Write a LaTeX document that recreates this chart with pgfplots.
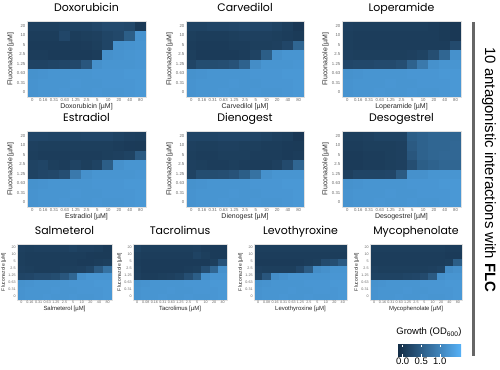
\documentclass[border=0pt]{standalone}
\usepackage{pgfplots}
\pgfplotsset{compat=1.18}
\usepackage{fontspec}
\setmainfont{Liberation Sans}
\newfontfamily\titlefont{Poppins}
\pgfplotsset{colormap={gg}{rgb255=(19,43,67) rgb255=(86,177,247)}}
\pgfplotsset{
 hm/.style={scale only axis, anchor=north west, xmin=-0.5, xmax=10.5, ymin=-0.5, ymax=7.5,
  enlargelimits=false, colormap name=gg, point meta min=-0.15, point meta max=1.57,
  axis line style={draw=black!12, line width=0.6bp}, major tick length=0pt,
  xtick={0,...,10}, ytick={0,...,7}, yticklabels={0,0.31,0.63,1.25,2.5,5,10,20},
  ylabel={Fluconazole [µM]}, axis on top, clip marker paths=true,
  title style={font=\titlefont\fontsize{11}{11}\selectfont, at={(0.5,1)}, anchor=base, yshift=3.5bp}},
 big/.style={hm, height=76bp,
  xticklabel style={font=\fontsize{4.3}{4.3}\selectfont, text=black!60, inner sep=1bp},
  yticklabel style={font=\fontsize{4.3}{4.3}\selectfont, text=black!60, inner sep=1.5bp},
  label style={font=\fontsize{7}{7}\selectfont, text=black!85, inner sep=1.5bp}},
 small/.style={hm, height=56bp,
  xticklabel style={font=\fontsize{3.7}{3.7}\selectfont, text=black!60, inner sep=1bp},
  yticklabel style={font=\fontsize{3.7}{3.7}\selectfont, text=black!60, inner sep=1.2bp},
  xlabel style={font=\fontsize{6}{6}\selectfont, text=black!85, inner sep=1.2bp},
  ylabel style={font=\fontsize{5}{5}\selectfont, text=black!85, inner sep=1.2bp}},
 hmplot/.style={scatter, only marks, point meta=explicit, mark=square*,
  scatter/use mapped color={draw=mapped color, fill=mapped color}},
 cellA/.style={hmplot, mark size=4.75bp, mark options={xscale=1.139, line width=0.5bp}},
 cellB/.style={hmplot, mark size=4.75bp, mark options={xscale=1.129, line width=0.5bp}},
 cellS/.style={hmplot, mark size=3.5bp, mark options={xscale=#1, line width=0.5bp}}
}
\begin{document}
\begin{tikzpicture}
\path[use as bounding box] (0,0) rectangle (500bp,-370bp);
% ---------- Doxorubicin
\begin{axis}[big, at={(27bp,-21bp)}, width=119bp, title={Doxorubicin}, xlabel={Doxorubicin [µM]}, xticklabels={0,0.16,0.31,0.63,1.25,2.5,5,10,20,40,80}]
\addplot[cellA] table[meta=c, row sep=\\]{
x y c\\
0 0 1.18\\ 1 0 1.20\\ 2 0 1.20\\ 3 0 1.22\\ 4 0 1.20\\ 5 0 1.20\\ 6 0 1.22\\ 7 0 1.20\\ 8 0 1.20\\ 9 0 1.22\\ 10 0 1.24\\
0 1 1.18\\ 1 1 1.20\\ 2 1 1.20\\ 3 1 1.20\\ 4 1 1.22\\ 5 1 1.20\\ 6 1 1.20\\ 7 1 1.22\\ 8 1 1.22\\ 9 1 1.22\\ 10 1 1.24\\
0 2 1.16\\ 1 2 1.18\\ 2 2 1.20\\ 3 2 1.20\\ 4 2 1.20\\ 5 2 1.20\\ 6 2 1.22\\ 7 2 1.22\\ 8 2 1.22\\ 9 2 1.24\\ 10 2 1.24\\
0 3 0.15\\ 1 3 0.15\\ 2 3 0.18\\ 3 3 0.20\\ 4 3 0.22\\ 5 3 0.40\\ 6 3 1.15\\ 7 3 1.20\\ 8 3 1.20\\ 9 3 1.20\\ 10 3 1.22\\
0 4 0.08\\ 1 4 0.08\\ 2 4 0.06\\ 3 4 0.06\\ 4 4 0.06\\ 5 4 0.06\\ 6 4 0.08\\ 7 4 1.15\\ 8 4 1.18\\ 9 4 1.20\\ 10 4 1.22\\
0 5 0.06\\ 1 5 0.06\\ 2 5 0.06\\ 3 5 0.06\\ 4 5 0.06\\ 5 5 0.07\\ 6 5 0.10\\ 7 5 0.18\\ 8 5 1.15\\ 9 5 1.18\\ 10 5 1.20\\
0 6 0.08\\ 1 6 0.08\\ 2 6 0.08\\ 3 6 0.20\\ 4 6 0.08\\ 5 6 0.10\\ 6 6 0.12\\ 7 6 0.18\\ 8 6 0.22\\ 9 6 0.50\\ 10 6 1.18\\
0 7 0.12\\ 1 7 0.12\\ 2 7 0.12\\ 3 7 0.14\\ 4 7 0.15\\ 5 7 0.16\\ 6 7 0.20\\ 7 7 0.25\\ 8 7 0.25\\ 9 7 0.22\\ 10 7 0.03\\
};
\end{axis}
% ---------- Carvedilol
\begin{axis}[big, at={(186bp,-21bp)}, width=118bp, title={Carvedilol}, xlabel={Carvedilol [µM]}, xticklabels={0,0.16,0.31,0.63,1.25,2.5,5,10,20,40,80}]
\addplot[cellB] table[meta=c, row sep=\\]{
x y c\\
0 0 1.18\\ 1 0 1.20\\ 2 0 1.20\\ 3 0 1.22\\ 4 0 1.20\\ 5 0 1.20\\ 6 0 1.22\\ 7 0 1.20\\ 8 0 1.20\\ 9 0 1.22\\ 10 0 1.24\\
0 1 1.18\\ 1 1 1.20\\ 2 1 1.20\\ 3 1 1.20\\ 4 1 1.22\\ 5 1 1.20\\ 6 1 1.20\\ 7 1 1.22\\ 8 1 1.22\\ 9 1 1.22\\ 10 1 1.24\\
0 2 1.16\\ 1 2 1.18\\ 2 2 1.20\\ 3 2 1.20\\ 4 2 1.20\\ 5 2 1.20\\ 6 2 1.22\\ 7 2 1.22\\ 8 2 1.22\\ 9 2 1.24\\ 10 2 1.24\\
0 3 0.18\\ 1 3 0.28\\ 2 3 0.28\\ 3 3 0.30\\ 4 3 0.35\\ 5 3 0.55\\ 6 3 1.10\\ 7 3 1.20\\ 8 3 1.20\\ 9 3 1.20\\ 10 3 1.22\\
0 4 0.10\\ 1 4 0.06\\ 2 4 0.06\\ 3 4 0.06\\ 4 4 0.06\\ 5 4 0.08\\ 6 4 0.15\\ 7 4 0.50\\ 8 4 1.15\\ 9 4 1.20\\ 10 4 1.20\\
0 5 0.08\\ 1 5 0.06\\ 2 5 0.06\\ 3 5 0.06\\ 4 5 0.08\\ 5 5 0.08\\ 6 5 0.10\\ 7 5 0.10\\ 8 5 0.12\\ 9 5 0.20\\ 10 5 0.60\\
0 6 0.10\\ 1 6 0.08\\ 2 6 0.08\\ 3 6 0.08\\ 4 6 0.10\\ 5 6 0.12\\ 6 6 0.12\\ 7 6 0.12\\ 8 6 0.10\\ 9 6 0.08\\ 10 6 0.05\\
0 7 0.15\\ 1 7 0.15\\ 2 7 0.18\\ 3 7 0.18\\ 4 7 0.20\\ 5 7 0.22\\ 6 7 0.20\\ 7 7 0.20\\ 8 7 0.15\\ 9 7 0.10\\ 10 7 0.02\\
};
\end{axis}
% ---------- Loperamide
\begin{axis}[big, at={(342bp,-21bp)}, width=119bp, title={Loperamide}, xlabel={Loperamide [µM]}, xticklabels={0,0.16,0.31,0.63,1.25,2.5,5,10,20,40,80}]
\addplot[cellA] table[meta=c, row sep=\\]{
x y c\\
0 0 1.18\\ 1 0 1.20\\ 2 0 1.20\\ 3 0 1.22\\ 4 0 1.20\\ 5 0 1.20\\ 6 0 1.22\\ 7 0 1.20\\ 8 0 1.20\\ 9 0 1.22\\ 10 0 1.24\\
0 1 1.18\\ 1 1 1.20\\ 2 1 1.20\\ 3 1 1.20\\ 4 1 1.22\\ 5 1 1.20\\ 6 1 1.20\\ 7 1 1.22\\ 8 1 1.22\\ 9 1 1.22\\ 10 1 1.24\\
0 2 1.16\\ 1 2 1.18\\ 2 2 1.20\\ 3 2 1.20\\ 4 2 1.20\\ 5 2 1.20\\ 6 2 1.22\\ 7 2 1.22\\ 8 2 1.22\\ 9 2 1.24\\ 10 2 1.24\\
0 3 0.20\\ 1 3 0.22\\ 2 3 0.22\\ 3 3 0.25\\ 4 3 0.25\\ 5 3 0.30\\ 6 3 0.55\\ 7 3 0.85\\ 8 3 1.15\\ 9 3 1.20\\ 10 3 1.20\\
0 4 0.12\\ 1 4 0.10\\ 2 4 0.10\\ 3 4 0.10\\ 4 4 0.10\\ 5 4 0.10\\ 6 4 0.12\\ 7 4 0.15\\ 8 4 0.30\\ 9 4 0.60\\ 10 4 1.15\\
0 5 0.10\\ 1 5 0.08\\ 2 5 0.08\\ 3 5 0.08\\ 4 5 0.08\\ 5 5 0.08\\ 6 5 0.08\\ 7 5 0.08\\ 8 5 0.08\\ 9 5 0.08\\ 10 5 0.25\\
0 6 0.10\\ 1 6 0.08\\ 2 6 0.08\\ 3 6 0.08\\ 4 6 0.08\\ 5 6 0.08\\ 6 6 0.08\\ 7 6 0.08\\ 8 6 0.08\\ 9 6 0.05\\ 10 6 0.02\\
0 7 0.12\\ 1 7 0.10\\ 2 7 0.10\\ 3 7 0.10\\ 4 7 0.10\\ 5 7 0.10\\ 6 7 0.10\\ 7 7 0.10\\ 8 7 0.08\\ 9 7 0.05\\ 10 7 0.02\\
};
\end{axis}
% ---------- Estradiol
\begin{axis}[big, at={(27bp,-131bp)}, width=119bp, title={Estradiol}, xlabel={Estradiol [µM]}, xticklabels={0,0.16,0.31,0.63,1.25,2.5,5,10,20,40,80}]
\addplot[cellA] table[meta=c, row sep=\\]{
x y c\\
0 0 1.18\\ 1 0 1.20\\ 2 0 1.20\\ 3 0 1.22\\ 4 0 1.20\\ 5 0 1.20\\ 6 0 1.22\\ 7 0 1.20\\ 8 0 1.20\\ 9 0 1.22\\ 10 0 1.24\\
0 1 1.18\\ 1 1 1.20\\ 2 1 1.20\\ 3 1 1.20\\ 4 1 1.22\\ 5 1 1.20\\ 6 1 1.20\\ 7 1 1.22\\ 8 1 1.22\\ 9 1 1.22\\ 10 1 1.24\\
0 2 1.16\\ 1 2 1.18\\ 2 2 1.20\\ 3 2 1.20\\ 4 2 1.20\\ 5 2 1.20\\ 6 2 1.22\\ 7 2 1.22\\ 8 2 1.22\\ 9 2 1.24\\ 10 2 1.24\\
0 3 0.15\\ 1 3 0.20\\ 2 3 0.22\\ 3 3 0.30\\ 4 3 0.85\\ 5 3 1.15\\ 6 3 1.20\\ 7 3 1.20\\ 8 3 1.20\\ 9 3 1.20\\ 10 3 1.22\\
0 4 0.15\\ 1 4 0.18\\ 2 4 0.10\\ 3 4 0.08\\ 4 4 0.15\\ 5 4 0.10\\ 6 4 0.15\\ 7 4 0.50\\ 8 4 1.15\\ 9 4 1.20\\ 10 4 1.20\\
0 5 0.10\\ 1 5 0.08\\ 2 5 0.08\\ 3 5 0.08\\ 4 5 0.08\\ 5 5 0.08\\ 6 5 0.08\\ 7 5 0.10\\ 8 5 0.12\\ 9 5 0.15\\ 10 5 0.45\\
0 6 0.12\\ 1 6 0.10\\ 2 6 0.10\\ 3 6 0.10\\ 4 6 0.10\\ 5 6 0.10\\ 6 6 0.10\\ 7 6 0.10\\ 8 6 0.08\\ 9 6 0.06\\ 10 6 0.05\\
0 7 0.20\\ 1 7 0.20\\ 2 7 0.18\\ 3 7 0.18\\ 4 7 0.18\\ 5 7 0.20\\ 6 7 0.20\\ 7 7 0.20\\ 8 7 0.15\\ 9 7 0.12\\ 10 7 0.10\\
};
\end{axis}
% ---------- Dienogest
\begin{axis}[big, at={(186bp,-131bp)}, width=118bp, title={Dienogest}, xlabel={Dienogest [µM]}, xticklabels={0,0.16,0.31,0.63,1.25,2.5,5,10,20,40,80}]
\addplot[cellB] table[meta=c, row sep=\\]{
x y c\\
0 0 1.18\\ 1 0 1.20\\ 2 0 1.20\\ 3 0 1.22\\ 4 0 1.20\\ 5 0 1.20\\ 6 0 1.22\\ 7 0 1.20\\ 8 0 1.20\\ 9 0 1.22\\ 10 0 1.24\\
0 1 1.18\\ 1 1 1.20\\ 2 1 1.20\\ 3 1 1.20\\ 4 1 1.22\\ 5 1 1.20\\ 6 1 1.20\\ 7 1 1.22\\ 8 1 1.22\\ 9 1 1.22\\ 10 1 1.24\\
0 2 1.16\\ 1 2 1.18\\ 2 2 1.20\\ 3 2 1.20\\ 4 2 1.20\\ 5 2 1.20\\ 6 2 1.22\\ 7 2 1.22\\ 8 2 1.22\\ 9 2 1.24\\ 10 2 1.24\\
0 3 0.15\\ 1 3 0.28\\ 2 3 0.28\\ 3 3 0.30\\ 4 3 0.35\\ 5 3 0.50\\ 6 3 0.75\\ 7 3 1.15\\ 8 3 1.20\\ 9 3 1.20\\ 10 3 1.20\\
0 4 0.12\\ 1 4 0.10\\ 2 4 0.08\\ 3 4 0.08\\ 4 4 0.10\\ 5 4 0.08\\ 6 4 0.08\\ 7 4 0.08\\ 8 4 0.12\\ 9 4 0.25\\ 10 4 0.60\\
0 5 0.10\\ 1 5 0.08\\ 2 5 0.08\\ 3 5 0.10\\ 4 5 0.10\\ 5 5 0.10\\ 6 5 0.08\\ 7 5 0.08\\ 8 5 0.08\\ 9 5 0.06\\ 10 5 0.08\\
0 6 0.12\\ 1 6 0.10\\ 2 6 0.10\\ 3 6 0.12\\ 4 6 0.12\\ 5 6 0.10\\ 6 6 0.10\\ 7 6 0.08\\ 8 6 0.08\\ 9 6 0.06\\ 10 6 0.05\\
0 7 0.18\\ 1 7 0.18\\ 2 7 0.18\\ 3 7 0.20\\ 4 7 0.20\\ 5 7 0.20\\ 6 7 0.18\\ 7 7 0.15\\ 8 7 0.12\\ 9 7 0.10\\ 10 7 0.02\\
};
\end{axis}
% ---------- Desogestrel
\begin{axis}[big, at={(342bp,-131bp)}, width=119bp, title={Desogestrel}, xlabel={Desogestrel [µM]}, xticklabels={0,0.16,0.31,0.63,1.25,2.5,5,10,20,40,80}]
\addplot[cellA] table[meta=c, row sep=\\]{
x y c\\
0 0 1.18\\ 1 0 1.20\\ 2 0 1.20\\ 3 0 1.22\\ 4 0 1.20\\ 5 0 1.20\\ 6 0 1.22\\ 7 0 1.20\\ 8 0 1.20\\ 9 0 1.22\\ 10 0 1.24\\
0 1 1.18\\ 1 1 1.20\\ 2 1 1.20\\ 3 1 1.20\\ 4 1 1.22\\ 5 1 1.20\\ 6 1 1.20\\ 7 1 1.22\\ 8 1 1.22\\ 9 1 1.22\\ 10 1 1.24\\
0 2 1.16\\ 1 2 1.18\\ 2 2 1.20\\ 3 2 1.20\\ 4 2 1.20\\ 5 2 1.20\\ 6 2 1.22\\ 7 2 1.22\\ 8 2 1.22\\ 9 2 1.24\\ 10 2 1.24\\
0 3 0.12\\ 1 3 0.18\\ 2 3 0.18\\ 3 3 0.18\\ 4 3 0.20\\ 5 3 0.45\\ 6 3 1.15\\ 7 3 1.15\\ 8 3 1.20\\ 9 3 1.20\\ 10 3 1.20\\
0 4 0.06\\ 1 4 0.06\\ 2 4 0.08\\ 3 4 0.08\\ 4 4 0.10\\ 5 4 0.12\\ 6 4 0.30\\ 7 4 0.50\\ 8 4 0.55\\ 9 4 0.60\\ 10 4 0.60\\
0 5 0.06\\ 1 5 0.06\\ 2 5 0.08\\ 3 5 0.08\\ 4 5 0.10\\ 5 5 0.12\\ 6 5 0.40\\ 7 5 0.55\\ 8 5 0.60\\ 9 5 0.62\\ 10 5 0.62\\
0 6 0.08\\ 1 6 0.08\\ 2 6 0.10\\ 3 6 0.10\\ 4 6 0.10\\ 5 6 0.12\\ 6 6 0.45\\ 7 6 0.55\\ 8 6 0.60\\ 9 6 0.60\\ 10 6 0.62\\
0 7 0.10\\ 1 7 0.10\\ 2 7 0.12\\ 3 7 0.15\\ 4 7 0.15\\ 5 7 0.15\\ 6 7 0.50\\ 7 7 0.55\\ 8 7 0.60\\ 9 7 0.60\\ 10 7 0.60\\
};
\end{axis}
% ---------- Salmeterol
\begin{axis}[small, at={(17bp,-244bp)}, width=95bp, title={Salmeterol}, xlabel={Salmeterol [µM]}, xticklabels={0,0.16,0.31,0.63,1.25,2.5,5,10,20,40,80}]
\addplot[cellS=1.234] table[meta=c, row sep=\\]{
x y c\\
0 0 1.18\\ 1 0 1.20\\ 2 0 1.20\\ 3 0 1.22\\ 4 0 1.20\\ 5 0 1.20\\ 6 0 1.22\\ 7 0 1.20\\ 8 0 1.20\\ 9 0 1.22\\ 10 0 1.24\\
0 1 1.18\\ 1 1 1.20\\ 2 1 1.20\\ 3 1 1.20\\ 4 1 1.22\\ 5 1 1.20\\ 6 1 1.20\\ 7 1 1.22\\ 8 1 1.22\\ 9 1 1.22\\ 10 1 1.24\\
0 2 1.16\\ 1 2 1.18\\ 2 2 1.20\\ 3 2 1.20\\ 4 2 1.20\\ 5 2 1.20\\ 6 2 1.22\\ 7 2 1.22\\ 8 2 1.22\\ 9 2 1.24\\ 10 2 1.24\\
0 3 0.18\\ 1 3 0.20\\ 2 3 0.25\\ 3 3 0.25\\ 4 3 0.28\\ 5 3 0.40\\ 6 3 0.60\\ 7 3 1.15\\ 8 3 1.20\\ 9 3 1.20\\ 10 3 1.20\\
0 4 0.12\\ 1 4 0.10\\ 2 4 0.08\\ 3 4 0.08\\ 4 4 0.08\\ 5 4 0.10\\ 6 4 0.10\\ 7 4 0.12\\ 8 4 0.18\\ 9 4 0.45\\ 10 4 0.75\\
0 5 0.10\\ 1 5 0.08\\ 2 5 0.08\\ 3 5 0.08\\ 4 5 0.08\\ 5 5 0.08\\ 6 5 0.08\\ 7 5 0.06\\ 8 5 0.06\\ 9 5 0.08\\ 10 5 0.10\\
0 6 0.10\\ 1 6 0.08\\ 2 6 0.08\\ 3 6 0.08\\ 4 6 0.08\\ 5 6 0.08\\ 6 6 0.08\\ 7 6 0.08\\ 8 6 0.06\\ 9 6 0.05\\ 10 6 0.05\\
0 7 0.12\\ 1 7 0.10\\ 2 7 0.12\\ 3 7 0.12\\ 4 7 0.12\\ 5 7 0.12\\ 6 7 0.15\\ 7 7 0.12\\ 8 7 0.12\\ 9 7 0.10\\ 10 7 0.05\\
};
\end{axis}
% ---------- Tacrolimus
\begin{axis}[small, at={(133bp,-244bp)}, width=94bp, title={Tacrolimus}, xlabel={Tacrolimus [µM]}, xticklabels={0,0.08,0.16,0.31,0.63,1.25,2.5,5,10,20,40}]
\addplot[cellS=1.221] table[meta=c, row sep=\\]{
x y c\\
0 0 1.18\\ 1 0 1.20\\ 2 0 1.20\\ 3 0 1.22\\ 4 0 1.20\\ 5 0 1.20\\ 6 0 1.22\\ 7 0 1.20\\ 8 0 1.20\\ 9 0 1.22\\ 10 0 1.24\\
0 1 1.18\\ 1 1 1.20\\ 2 1 1.20\\ 3 1 1.20\\ 4 1 1.22\\ 5 1 1.20\\ 6 1 1.20\\ 7 1 1.22\\ 8 1 1.22\\ 9 1 1.22\\ 10 1 1.24\\
0 2 1.16\\ 1 2 1.18\\ 2 2 1.20\\ 3 2 1.20\\ 4 2 1.20\\ 5 2 1.20\\ 6 2 1.22\\ 7 2 1.22\\ 8 2 1.22\\ 9 2 1.24\\ 10 2 1.24\\
0 3 0.12\\ 1 3 0.08\\ 2 3 0.08\\ 3 3 0.10\\ 4 3 0.12\\ 5 3 0.15\\ 6 3 0.30\\ 7 3 0.50\\ 8 3 1.15\\ 9 3 1.20\\ 10 3 1.20\\
0 4 0.10\\ 1 4 0.06\\ 2 4 0.06\\ 3 4 0.06\\ 4 4 0.06\\ 5 4 0.06\\ 6 4 0.08\\ 7 4 0.10\\ 8 4 0.30\\ 9 4 0.60\\ 10 4 1.15\\
0 5 0.08\\ 1 5 0.06\\ 2 5 0.06\\ 3 5 0.06\\ 4 5 0.06\\ 5 5 0.06\\ 6 5 0.06\\ 7 5 0.06\\ 8 5 0.06\\ 9 5 0.10\\ 10 5 0.35\\
0 6 0.10\\ 1 6 0.08\\ 2 6 0.08\\ 3 6 0.08\\ 4 6 0.08\\ 5 6 0.08\\ 6 6 0.08\\ 7 6 0.15\\ 8 6 0.10\\ 9 6 0.06\\ 10 6 0.06\\
0 7 0.15\\ 1 7 0.10\\ 2 7 0.10\\ 3 7 0.10\\ 4 7 0.10\\ 5 7 0.10\\ 6 7 0.10\\ 7 7 0.12\\ 8 7 0.08\\ 9 7 0.06\\ 10 7 0.06\\
};
\end{axis}
% ---------- Levothyroxine
\begin{axis}[small, at={(254bp,-244bp)}, width=93bp, title={Levothyroxine}, xlabel={Levothyroxine [µM]}, xticklabels={0,0.08,0.16,0.31,0.63,1.25,2.5,5,10,20,40}]
\addplot[cellS=1.208] table[meta=c, row sep=\\]{
x y c\\
0 0 1.18\\ 1 0 1.20\\ 2 0 1.20\\ 3 0 1.22\\ 4 0 1.20\\ 5 0 1.20\\ 6 0 1.22\\ 7 0 1.20\\ 8 0 1.20\\ 9 0 1.22\\ 10 0 1.24\\
0 1 1.18\\ 1 1 1.20\\ 2 1 1.20\\ 3 1 1.20\\ 4 1 1.22\\ 5 1 1.20\\ 6 1 1.20\\ 7 1 1.22\\ 8 1 1.22\\ 9 1 1.22\\ 10 1 1.24\\
0 2 1.16\\ 1 2 1.18\\ 2 2 1.20\\ 3 2 1.20\\ 4 2 1.20\\ 5 2 1.20\\ 6 2 1.22\\ 7 2 1.22\\ 8 2 1.22\\ 9 2 1.24\\ 10 2 1.24\\
0 3 0.15\\ 1 3 0.40\\ 2 3 1.10\\ 3 3 1.15\\ 4 3 1.20\\ 5 3 1.20\\ 6 3 1.20\\ 7 3 1.20\\ 8 3 1.20\\ 9 3 1.22\\ 10 3 1.22\\
0 4 0.12\\ 1 4 0.10\\ 2 4 0.10\\ 3 4 0.10\\ 4 4 0.10\\ 5 4 0.20\\ 6 4 0.45\\ 7 4 1.10\\ 8 4 1.15\\ 9 4 1.20\\ 10 4 1.20\\
0 5 0.06\\ 1 5 0.06\\ 2 5 0.06\\ 3 5 0.06\\ 4 5 0.06\\ 5 5 0.06\\ 6 5 0.08\\ 7 5 0.10\\ 8 5 0.25\\ 9 5 0.30\\ 10 5 0.45\\
0 6 0.08\\ 1 6 0.08\\ 2 6 0.08\\ 3 6 0.08\\ 4 6 0.08\\ 5 6 0.08\\ 6 6 0.08\\ 7 6 0.08\\ 8 6 0.08\\ 9 6 0.08\\ 10 6 0.08\\
0 7 0.10\\ 1 7 0.10\\ 2 7 0.10\\ 3 7 0.10\\ 4 7 0.10\\ 5 7 0.10\\ 6 7 0.10\\ 7 7 0.10\\ 8 7 0.10\\ 9 7 0.10\\ 10 7 0.10\\
};
\end{axis}
% ---------- Mycophenolate
\begin{axis}[small, at={(370bp,-244bp)}, width=92bp, title={Mycophenolate}, xlabel={Mycophenolate [µM]}, xticklabels={0,0.16,0.31,0.63,1.25,2.5,5,10,20,40,80}]
\addplot[cellS=1.195] table[meta=c, row sep=\\]{
x y c\\
0 0 1.18\\ 1 0 1.20\\ 2 0 1.20\\ 3 0 1.22\\ 4 0 1.20\\ 5 0 1.20\\ 6 0 1.22\\ 7 0 1.20\\ 8 0 1.20\\ 9 0 1.22\\ 10 0 1.24\\
0 1 1.18\\ 1 1 1.20\\ 2 1 1.20\\ 3 1 1.20\\ 4 1 1.22\\ 5 1 1.20\\ 6 1 1.20\\ 7 1 1.22\\ 8 1 1.22\\ 9 1 1.22\\ 10 1 1.24\\
0 2 1.16\\ 1 2 1.18\\ 2 2 1.20\\ 3 2 1.20\\ 4 2 1.20\\ 5 2 1.20\\ 6 2 1.22\\ 7 2 1.22\\ 8 2 1.22\\ 9 2 1.24\\ 10 2 1.24\\
0 3 0.15\\ 1 3 0.15\\ 2 3 0.15\\ 3 3 0.15\\ 4 3 0.18\\ 5 3 0.20\\ 6 3 0.25\\ 7 3 0.45\\ 8 3 1.15\\ 9 3 1.20\\ 10 3 1.20\\
0 4 0.12\\ 1 4 0.10\\ 2 4 0.10\\ 3 4 0.10\\ 4 4 0.10\\ 5 4 0.10\\ 6 4 0.10\\ 7 4 0.12\\ 8 4 0.15\\ 9 4 1.10\\ 10 4 1.15\\
0 5 0.08\\ 1 5 0.08\\ 2 5 0.08\\ 3 5 0.08\\ 4 5 0.08\\ 5 5 0.08\\ 6 5 0.08\\ 7 5 0.08\\ 8 5 0.08\\ 9 5 0.10\\ 10 5 0.50\\
0 6 0.08\\ 1 6 0.08\\ 2 6 0.08\\ 3 6 0.08\\ 4 6 0.08\\ 5 6 0.08\\ 6 6 0.08\\ 7 6 0.08\\ 8 6 0.08\\ 9 6 0.06\\ 10 6 0.06\\
0 7 0.10\\ 1 7 0.10\\ 2 7 0.10\\ 3 7 0.10\\ 4 7 0.10\\ 5 7 0.10\\ 6 7 0.10\\ 7 7 0.10\\ 8 7 0.10\\ 9 7 0.08\\ 10 7 0.08\\
};
\end{axis}
% ---------- colour bar
\begin{axis}[at={(397bp,-348bp)}, anchor=south west, scale only axis, width=64bp, height=12bp,
  hide axis, xmin=0, xmax=1, ymin=0, ymax=1, colormap name=gg,
  point meta min=-0.15, point meta max=1.57, colorbar horizontal,
  colorbar style={at={(parent axis.south west)}, anchor=south west, scale only axis,
    width=64bp, height=12bp, xtick={0,0.5,1},
    xticklabel style={font=\fontsize{9.5}{9.5}\selectfont, inner sep=1.5bp,
      /pgf/number format/.cd, fixed, fixed zerofill, precision=1, assume math mode=true},
    major tick length=2.5bp, tick style={draw=white, line width=0.4bp}, axis line style={draw=none},
    title={Growth (OD\textsubscript{600})},
    title style={font=\fontsize{9.5}{9.5}\selectfont, inner sep=1.5bp}}]
\addplot[draw=none] coordinates {(0,0)};
\end{axis}
% ---------- side annotation
\draw[line width=3bp, black!60] (473bp,-22bp) -- (473bp,-356bp);
\node[rotate=-90, font=\fontsize{15}{15}\selectfont] at (489bp,-170bp) {10 antagonistic interactions with \textbf{FLC}};
\end{tikzpicture}
\end{document}
